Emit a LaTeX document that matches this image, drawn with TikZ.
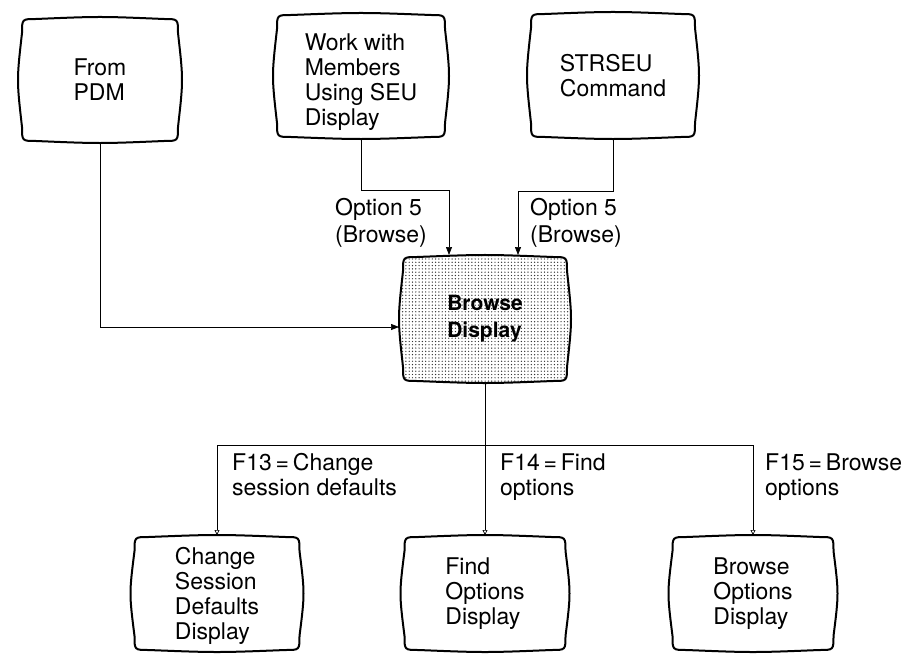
\documentclass[tikz,border=0pt]{standalone}
\usepackage{fontspec}
\setmainfont{TeX Gyre Heros}
\usetikzlibrary{arrows.meta,patterns.meta,backgrounds}
\newcommand\scrnoutline[2][]{%
  \draw[outline,#1]
    ([xshift=18pt,yshift=-2pt]#2.north west)
    .. controls ([yshift=0.67pt]#2.north) .. ([xshift=-18pt,yshift=-2pt]#2.north east)
    .. controls ([xshift=-4pt,yshift=-2pt]#2.north east) .. ([xshift=-4pt,yshift=-16pt]#2.north east)
    .. controls ([xshift=1.33pt]#2.east) .. ([xshift=-4pt,yshift=16pt]#2.south east)
    .. controls ([xshift=-4pt,yshift=2pt]#2.south east) .. ([xshift=-18pt,yshift=2pt]#2.south east)
    .. controls ([yshift=-0.67pt]#2.south) .. ([xshift=18pt,yshift=2pt]#2.south west)
    .. controls ([xshift=4pt,yshift=2pt]#2.south west) .. ([xshift=4pt,yshift=16pt]#2.south west)
    .. controls ([xshift=-1.33pt]#2.west) .. ([xshift=4pt,yshift=-16pt]#2.north west)
    .. controls ([xshift=4pt,yshift=-2pt]#2.north west) .. ([xshift=18pt,yshift=-2pt]#2.north west)
    -- cycle;}
\begin{document}
\begin{tikzpicture}[x=1pt,y=-1pt,
  screen/.style={rectangle, inner sep=0pt, outer sep=0pt, align=left,
    font=\fontsize{23}{25}\selectfont},
  outline/.style={line width=2pt, line join=round},
  conn/.style={line width=0.7pt},
  arr/.style={conn,-{Triangle[length=8pt,width=6pt]}},
  oarr/.style={conn,-{Triangle[open,length=5pt,width=5pt]}},
  lbl/.style={inner sep=0pt, anchor=base west, align=left,
    font=\fontsize{23}{27}\selectfont}]
\useasboundingbox (0,0) rectangle (915,655);

\node[screen, minimum width=164pt, minimum height=126pt] (pdm) at (100,80) {From\\PDM};
\node[screen, minimum width=176pt, minimum height=126pt] (work) at (361,76)
  {\raisebox{-7pt}[\height][\depth]{\begin{tabular}{@{}l@{}}Work with\\Members\\Using SEU\\Display\end{tabular}}};
\node[screen, minimum width=172pt, minimum height=127pt] (strseu) at (613,75.5) {STRSEU\\Command};
\node[screen, minimum width=172pt, minimum height=128pt,
  font=\fontsize{21}{27}\selectfont\bfseries] (browse) at (485,319) {Browse\\Display};
\node[screen, minimum width=173pt, minimum height=117pt] (change) at (217,593.5)
  {\raisebox{-3pt}[\height][\depth]{\begin{tabular}{@{}l@{}}Change\\Session\\Defaults\\Display\end{tabular}}};
\node[screen, minimum width=169pt, minimum height=117pt] (find) at (485,593.5) {Find\\Options\\Display};
\node[screen, minimum width=169pt, minimum height=117pt] (bopt) at (753,593.5) {Browse\\Options\\Display};

\begin{scope}[on background layer]
  \scrnoutline{pdm}
  \scrnoutline{work}
  \scrnoutline{strseu}
  \scrnoutline[pattern={Dots[distance=3.3pt,radius=0.7pt]},pattern color=black!80]{browse}
  \scrnoutline{change}
  \scrnoutline{find}
  \scrnoutline{bopt}
\end{scope}

\draw[arr] (pdm.south) |- ([yshift=-8pt]browse.west);
\draw[arr] (work.south) -- ++(0,51) -| ([xshift=-36pt]browse.north);
\draw[arr] (strseu.south) -- ++(0,52) -| ([xshift=33pt]browse.north);
\coordinate (bus) at (485,445);
\draw[oarr] (browse.south) -- (find.north);
\draw[oarr] (bus) -| (change.north);
\draw[oarr] (bus) -| (bopt.north);

\node[lbl] (l1) at (335,242) {Option 5\\(Browse)};
\node[lbl] (l2) at (530,242) {Option 5\\(Browse)};
\node[lbl, font=\fontsize{23}{25}\selectfont] (l3) at (232,495) {F13\,=\,Change\\session defaults};
\node[lbl, font=\fontsize{23}{25}\selectfont] (l4) at (500,495) {F14\,=\,Find\\options};
\node[lbl, font=\fontsize{23}{25}\selectfont] (l5) at (765,495) {F15\,=\,Browse\\options};
\end{tikzpicture}
\end{document}
